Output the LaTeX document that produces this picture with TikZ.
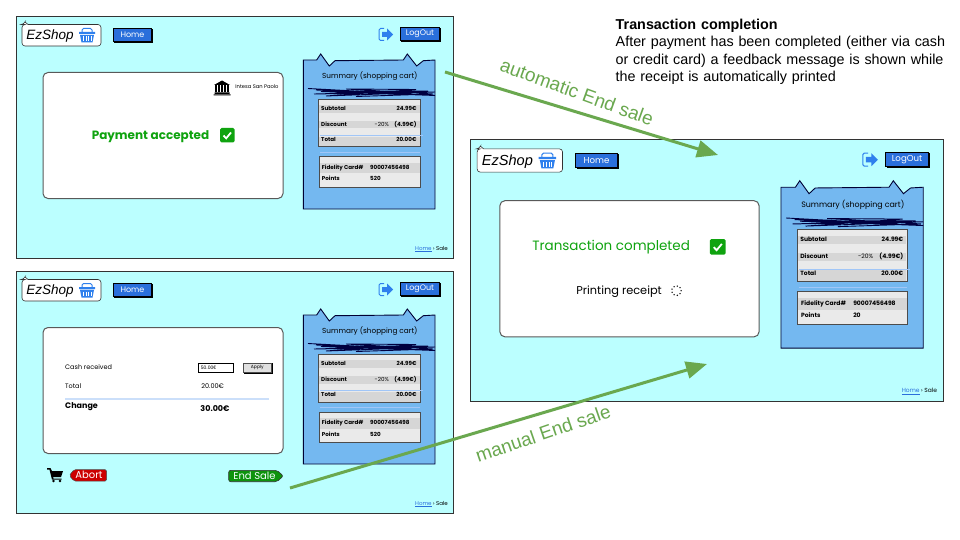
\documentclass[tikz,border=0pt]{standalone}
\usepackage{fontspec}
\setmainfont{Poppins}
\newfontfamily\arialfont{Liberation Sans}
\usetikzlibrary{arrows.meta}

\definecolor{screenbg}{HTML}{BBFFFF}
\definecolor{ezblue}{HTML}{2A6FDB}
\definecolor{iconblue}{HTML}{2F80ED}
\definecolor{panelblue}{HTML}{74B8F0}
\definecolor{okgreen}{HTML}{0FA30F}
\definecolor{flowgreen}{HTML}{6AA84F}
\definecolor{rowdark}{HTML}{D6D6D6}
\definecolor{rowlight}{HTML}{EAEAEA}

\tikzset{
  txt/.style={inner sep=0pt, text=black},
  sumtext/.style={txt, text height=4.2pt, text depth=1.2pt, font=\fontsize{5.6}{6}\selectfont\bfseries},
  cardtext/.style={txt, font=\fontsize{6.5}{7}\selectfont},
  bluebtn/.style={fill=ezblue, draw=black, line width=0.6pt, text=white, inner sep=0pt,
    minimum height=13pt, font=\fontsize{8}{9}\selectfont},
  flowarrow/.style={draw=flowgreen, line width=3pt, -{Triangle[length=21pt,width=17pt]}},
  flowlabel/.style={inner sep=0pt, text=flowgreen, font=\arialfont\fontsize{19}{21}\selectfont},
  sumtable/.style={fill=rowlight, draw=black!70, line width=1pt},
  thinrule/.style={draw=iconblue!45, line width=0.6pt}
}

% One green check box, given its upper left corner
\newcommand{\ezcheck}[2]{
  \fill[okgreen, rounded corners=1.5pt] (#1,#2) rectangle ++(14.5,14.5);
  \draw[white, line width=1.8pt] (#1+3.5,#2+7.5) -- (#1+6.2,#2+10.3) -- (#1+11,#2+4.5);
}

% The parts that every screen has: #1 name prefix, #2 fidelity points
\newcommand{\ezscreen}[2]{
  % Background and frame
  \filldraw[fill=screenbg, draw=black!80, line width=0.9pt] (0,0) rectangle (437.5,242);

  % Logo bubble and basket
  \filldraw[fill=white, draw=black!80, line width=0.6pt, rounded corners=3pt]
    (6,8.5) -- (8,8.5) [sharp corners] -- (9,6) -- (12,8.5) [rounded corners=3pt] -- (85,8.5)
    -- (85,30) -- (6,30) -- cycle;
  \node[txt, font=\arialfont\itshape\fontsize{13.5}{15}\selectfont] (#1logo) at (34,20) {EzShop};
  \fill[iconblue] (63,16) rectangle (79,18) (64,18.8) -- (78,18.8) -- (76.5,26.5) -- (65.5,26.5) -- cycle;
  \draw[iconblue, line width=1pt, rounded corners=1.5pt] (66,16) -- (66,12.5) -- (76,12.5) -- (76,16);
  \foreach \x in {67.5,70,72.5,75} {
    \draw[white, line width=0.7pt] (\x,20.5) -- (\x,25);
  }

  % Home and logout
  \fill[black] (98,13) rectangle (137,27);
  \node[bluebtn, minimum width=38.5pt] (#1home) at (116.5,19) {Home};
  \fill[black] (385,12) rectangle (425,26);
  \node[bluebtn, minimum width=39.5pt] (#1logout) at (404,18) {LogOut};
  \draw[iconblue, line width=1pt, rounded corners=1.5pt] (368,12.5) -- (363,12.5) -- (363,24.5) -- (368,24.5);
  \fill[iconblue] (366,16) -- (371,16) -- (371,12.5) -- (377,18.5) -- (371,24.5) -- (371,21) -- (366,21) -- cycle;

  % Summary panel with two notches
  \filldraw[fill=panelblue, draw=black!80!blue, line width=0.9pt]
    (287.3,44) -- (300.7,44) -- (304.7,38) -- (313.3,50) -- (319,44.7) -- (387.3,44)
    -- (391.3,38) -- (400.7,50) -- (407.3,44.7) -- (419,44) -- (419,193) -- (287.3,193) -- cycle;
  \node[txt, font=\fontsize{7.3}{8}\selectfont] (#1summary) at (353.8,60.3) {Summary (shopping cart)};

  % Scribbled line under the title
  \draw[black!75!blue, line width=0.9pt]
    (292,72.5) -- (395,78) -- (300,74) -- (419,79.5) -- (305,75.5) -- (412,75)
    -- (298,78) -- (419,76) -- (310,80) -- (400,73.5) -- (330,73) -- (417,78) -- (340,80.5);

  % Totals table
  \filldraw[sumtable] (302.7,83.5) rectangle (404,131);
  \foreach \y/\h in {89/8, 105/7.5, 121/9.5} {
    \fill[rowdark] (303.2,\y) rectangle (403.5,\y+\h);
  }
  \draw[thinrule] (304,119.7) -- (407,119.7);
  \draw[thinrule] (304,136.7) -- (404,136.7);
  \node[sumtext, anchor=west] (#1subl) at (305,93) {Subtotal};
  \node[sumtext, anchor=east] (#1subv) at (400.7,93) {24.99€};
  \node[sumtext, anchor=west] (#1disl) at (305,108.7) {Discount};
  \node[sumtext, anchor=east, font=\fontsize{5.6}{6}\selectfont] (#1dispc) at (373,108.7) {-20\%};
  \node[sumtext, anchor=east] (#1disv) at (400.7,108.7) {(4.99€)};
  \node[sumtext, anchor=west] (#1totl) at (305,124.3) {Total};
  \node[sumtext, anchor=east] (#1totv) at (400.7,124.3) {20.00€};

  % Fidelity table
  \filldraw[sumtable] (303,141) rectangle (404.7,171.3);
  \fill[rowdark] (303.5,147) rectangle (404.2,157.5);
  \node[sumtext, anchor=west] (#1fidl) at (305.7,152.3) {Fidelity Card\#};
  \node[sumtext, anchor=west] (#1fidv) at (354,152.3) {90007456498};
  \node[sumtext, anchor=west] (#1ptsl) at (305.7,163.5) {Points};
  \node[sumtext, anchor=west] (#1ptsv) at (354,163.5) {#2};

  % Breadcrumb
  \node[txt, anchor=east, font=\fontsize{5.5}{6}\selectfont] (#1crumb) at (432,233)
    {\textcolor{ezblue}{\underline{Home}} › Sale};

  % Card
  \filldraw[fill=white, draw=black!65, line width=1pt, rounded corners=5pt] (27,56.5) rectangle (267,182.5);
}

\begin{document}
\begin{tikzpicture}[x=1pt, y=-1pt]
  \useasboundingbox (0,0) rectangle (960,540);
  \fill[white] (0,0) rectangle (960,540);

  % Payment screen
  \begin{scope}[shift={(16,16)}]
    \ezscreen{pay}{520}
    \fill[black] (198,69) -- (206,64.5) -- (214,69) -- cycle (198.5,76.5) rectangle (213.5,78) (197.5,78.5) rectangle (214.5,79.5);
    \foreach \x in {200,203,206,209,212} {
      \fill[black] (\x-0.8,69.5) rectangle (\x+0.8,76);
    }
    \node[txt, font=\fontsize{5.2}{6}\selectfont] (paybank) at (241,70.5) {Intesa San Paolo};
    \node[txt, text=okgreen, font=\fontsize{12}{14}\selectfont\bfseries] (payok) at (134.5,120.5) {Payment accepted};
    \ezcheck{204}{112}
  \end{scope}

  % Cash screen
  \begin{scope}[shift={(16,271)}]
    \ezscreen{cash}{520}
    \node[cardtext, anchor=west] (cashlab) at (49,96) {Cash received};
    \node[draw=black, line width=0.6pt, fill=white, inner sep=0.8pt, anchor=west, minimum width=35pt, minimum height=9.3pt,
      align=left, font=\arialfont\fontsize{5}{6}\selectfont] (cashbox) at (181.7,96.7) {50.00€\hspace{14pt}};
    \fill[black] (228,92) rectangle (256.5,102.5);
    \node[draw=black!70, line width=0.4pt, fill=black!12, inner sep=0pt, minimum width=27.5pt, minimum height=9.5pt,
      font=\fontsize{4.5}{5}\selectfont] (cashapply) at (241.3,96.5) {Apply};
    \node[cardtext, anchor=west] (cashtot) at (49,115) {Total};
    \node[cardtext] (cashtotv) at (196.7,115) {20.00€};
    \draw[iconblue!25, line width=1.1pt] (49,128) -- (253,128);
    \node[txt, anchor=west, font=\fontsize{8}{9}\selectfont\bfseries] (cashchg) at (49,136) {Change};
    \node[txt, font=\fontsize{8}{9}\selectfont\bfseries] (cashchgv) at (199,137.5) {30.00€};

    % Cart, abort and end sale
    \fill[black] (31,197) -- (34.5,197) -- (36,200) -- (47,200) -- (45,206) -- (37,206) -- (37.5,207.5) -- (45.5,207.5) -- (45.5,208.5) -- (36,208.5) -- (33.5,198.5) -- (31,198.5) -- cycle;
    \fill[black] (37.5,210) circle (1.4) (44,210) circle (1.4);
    \filldraw[fill=red!80!black, draw=black!70, line width=0.5pt, rounded corners=1.5pt]
      (53.3,204.5) -- (58,198.7) -- (90.7,198.7) -- (90.7,210) -- (58,210) -- cycle;
    \node[txt, text=white, font=\fontsize{10}{11}\selectfont] (cashabort) at (73,204) {Abort};
    \filldraw[fill=okgreen!90!black, draw=black!80, line width=0.6pt, rounded corners=2pt]
      (212.7,199.3) -- (261,199.3) -- (267.3,205) -- (261,210.7) -- (212.7,210.7) -- cycle;
    \node[txt, text=white!85!screenbg, font=\fontsize{10}{11}\selectfont] (cashend) at (238.5,204.8) {End Sale};
  \end{scope}

  % Completed screen
  \begin{scope}[shift={(470.7,139.7)}, scale=1.08, transform shape]
    \ezscreen{done}{20}
    \node[txt, text=okgreen, font=\fontsize{12.5}{14}\selectfont] (doneok) at (130,99.5) {Transaction completed};
    \ezcheck{221.5}{92}
    \node[txt, font=\fontsize{10.5}{12}\selectfont] (doneprint) at (137.4,140.5) {Printing receipt};
    \foreach \a in {0,40,...,320} {
      \fill[black] (190.5,139.8) ++(\a:4.3) circle (0.7);
    }
  \end{scope}

  % Description
  \node[anchor=north west, inner sep=0pt, align=left, text width=340pt,
    font=\arialfont\fontsize{14.35}{17.6}\selectfont] (desc) at (615.5,18.5)
    {\textbf{Transaction completion}\\After payment has been completed (either via cash\\or credit card) a feedback message is shown while\\the receipt is automatically printed};

  % Flow arrows
  \coordinate (autostart) at (445,72);
  \coordinate (autoend) at (718,155);
  \coordinate (manstart) at (290,488);
  \coordinate (manend) at (707,364);
  \draw[flowarrow] (autostart) -- (autoend);
  \draw[flowarrow] (manstart) -- (manend);
  \node[flowlabel, rotate=-20] (autolabel) at (577,92) {automatic End sale};
  \node[flowlabel, rotate=19] (manlabel) at (543,433.5) {manual End sale};
\end{tikzpicture}
\end{document}
